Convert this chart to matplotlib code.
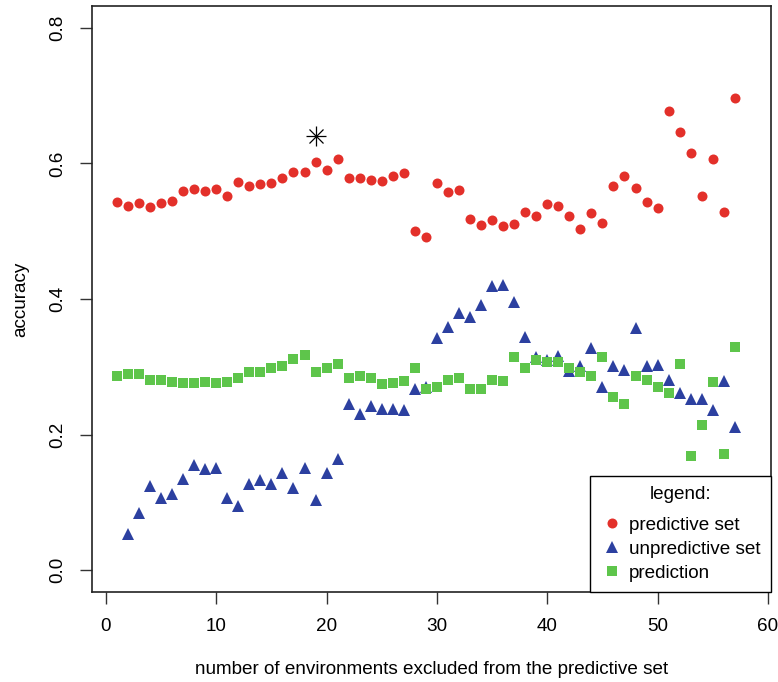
import matplotlib
matplotlib.use("Agg")
import matplotlib.pyplot as plt

plt.rcParams['font.family'] = ['Liberation Sans', 'DejaVu Sans']

# predictive set accuracy, x = 1..57
pred_x = list(range(1, 58))
pred_acc = [0.543, 0.537, 0.541, 0.536, 0.541, 0.544, 0.560, 0.562, 0.560, 0.563,
            0.552, 0.572, 0.567, 0.570, 0.571, 0.578, 0.587, 0.588, 0.602, 0.591,
            0.606, 0.578, 0.578, 0.576, 0.574, 0.581, 0.586, 0.500, 0.491, 0.571,
            0.558, 0.561, 0.518, 0.509, 0.516, 0.508, 0.510, 0.528, 0.523, 0.540,
            0.537, 0.522, 0.504, 0.527, 0.512, 0.567, 0.581, 0.564, 0.543, 0.534,
            0.677, 0.646, 0.616, 0.552, 0.607, 0.529, 0.696]

# unpredictive set accuracy, x = 2..57
unpred_x = list(range(2, 58))
unpred_acc = [0.054, 0.084, 0.124, 0.107, 0.112, 0.135, 0.156, 0.150, 0.151,
              0.106, 0.095, 0.127, 0.133, 0.127, 0.144, 0.122, 0.151, 0.104, 0.143,
              0.164, 0.245, 0.230, 0.242, 0.238, 0.238, 0.236, 0.268, 0.271, 0.342,
              0.359, 0.380, 0.373, 0.391, 0.419, 0.420, 0.396, 0.344, 0.315, 0.310,
              0.316, 0.294, 0.302, 0.328, 0.271, 0.301, 0.296, 0.358, 0.301, 0.303,
              0.281, 0.262, 0.252, 0.253, 0.237, 0.279, 0.211]

# prediction accuracy, x = 1..57
prediction_x = list(range(1, 58))
prediction_acc = [0.287, 0.289, 0.289, 0.281, 0.280, 0.277, 0.276, 0.276, 0.277, 0.276,
                  0.277, 0.283, 0.292, 0.293, 0.299, 0.302, 0.311, 0.317, 0.293, 0.299,
                  0.304, 0.283, 0.286, 0.283, 0.274, 0.276, 0.279, 0.298, 0.268, 0.270,
                  0.281, 0.283, 0.268, 0.267, 0.280, 0.279, 0.314, 0.298, 0.310, 0.307,
                  0.307, 0.299, 0.293, 0.286, 0.314, 0.255, 0.245, 0.286, 0.280, 0.271,
                  0.262, 0.304, 0.169, 0.214, 0.277, 0.171, 0.330]

# highlighted point
star_x = [19]
star_y = [0.641]

RED = "#E3302A"
BLUE = "#2C40A0"
GREEN = "#5EC54B"
FS = 13.6

fig = plt.figure(figsize=(7.78, 6.82), dpi=100)
ax = fig.add_axes([0.118, 0.132, 0.873, 0.859])

ax.plot(pred_x, pred_acc, "o", color=RED, markersize=7.2, markeredgewidth=0, label="predictive set")
ax.plot(unpred_x, unpred_acc, "^", color=BLUE, markersize=8.2, markeredgewidth=0, label="unpredictive set")
ax.plot(prediction_x, prediction_acc, "s", color=GREEN, markersize=6.6, markeredgewidth=0, label="prediction")
ax.plot(star_x, star_y, "+", color="black", markersize=14, markeredgewidth=0.9)
ax.plot(star_x, star_y, "x", color="black", markersize=10, markeredgewidth=0.9)

ax.set_xlim(-1.28, 60.28)
ax.set_ylim(-0.032, 0.832)
ax.set_xticks([0, 10, 20, 30, 40, 50, 60])
ax.set_yticks([0.0, 0.2, 0.4, 0.6, 0.8])
ax.set_yticklabels(["0.0", "0.2", "0.4", "0.6", "0.8"])
ax.tick_params(length=8.5, width=1.0, pad=10, labelsize=FS, color="#333333")
plt.setp(ax.get_yticklabels(), rotation=90, va="center")
for s in ax.spines.values():
    s.set_linewidth(1.2)
    s.set_color("#222222")

ax.set_xlabel("number of environments excluded from the predictive set", fontsize=FS, labelpad=19)
ax.set_ylabel("accuracy", fontsize=FS, labelpad=14)

leg = ax.legend(loc="lower right", bbox_to_anchor=(1.0, 0.0), borderaxespad=0,
                title="legend:", fontsize=FS, title_fontsize=FS, frameon=True,
                fancybox=False, edgecolor="black", framealpha=1, handletextpad=0.3,
                handlelength=1.2, borderpad=0.55, labelspacing=0.36)
leg.get_frame().set_linewidth(1.0)
# a bit more room between the title and the entries
leg._legend_box.sep = 0.36 * FS + 4.4

fig.savefig("out.png", dpi=100)
